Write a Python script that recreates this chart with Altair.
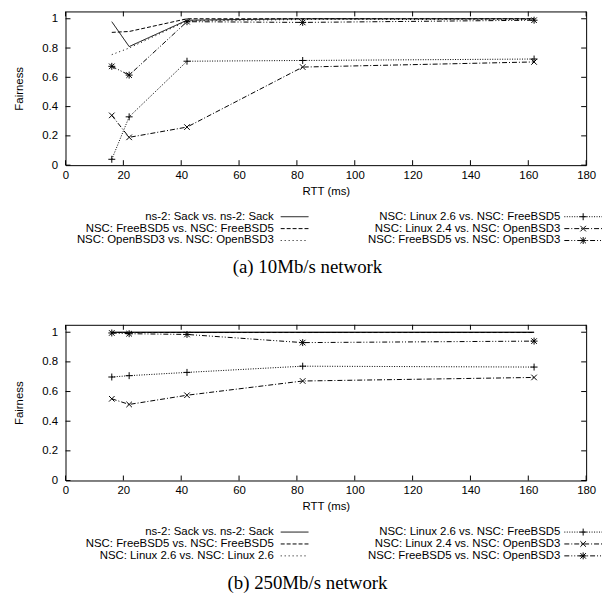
import altair as alt
import pandas as pd

# ---------------- data ----------------
rtt = [16, 22, 42, 82, 162]

series_a = [
    "ns-2: Sack vs. ns-2: Sack",
    "NSC: FreeBSD5 vs. NSC: FreeBSD5",
    "NSC: OpenBSD3 vs. NSC: OpenBSD3",
    "NSC: Linux 2.6 vs. NSC: FreeBSD5",
    "NSC: Linux 2.4 vs. NSC: OpenBSD3",
    "NSC: FreeBSD5 vs. NSC: OpenBSD3",
]
ns2_a = [0.98, 0.81, 0.99, 1.0, 1.0]
free_free_a = [0.907, 0.913, 1.0, 1.0, 1.0]
open_open_a = [0.755, 0.80, 0.985, 0.995, 0.995]
linux26_free_a = [0.04, 0.33, 0.71, 0.715, 0.725]
linux24_open_a = [0.34, 0.19, 0.26, 0.67, 0.705]
free_open_a = [0.675, 0.615, 0.98, 0.975, 0.99]

series_b = [
    "ns-2: Sack vs. ns-2: Sack",
    "NSC: FreeBSD5 vs. NSC: FreeBSD5",
    "NSC: Linux 2.6 vs. NSC: Linux 2.6",
    "NSC: Linux 2.6 vs. NSC: FreeBSD5",
    "NSC: Linux 2.4 vs. NSC: OpenBSD3",
    "NSC: FreeBSD5 vs. NSC: OpenBSD3",
]
ns2_b = [1.0, 1.0, 1.0, 1.0, 1.0]
free_free_b = [0.998, 0.998, 0.998, 0.998, 0.998]
linux_linux_b = [0.999, 0.999, 0.999, 0.999, 0.999]
linux26_free_b = [0.698, 0.707, 0.729, 0.771, 0.765]
linux24_open_b = [0.551, 0.513, 0.575, 0.671, 0.695]
free_open_b = [0.995, 0.99, 0.985, 0.93, 0.94]

x_ticks = [0, 20, 40, 60, 80, 100, 120, 140, 160, 180]
y_ticks = [0, 0.2, 0.4, 0.6, 0.8, 1]

caption_a = "(a)  10Mb/s network"
caption_b = "(b)  250Mb/s network"

# ---------------- styles ----------------
SANS = "Liberation Sans"
SERIF = "Liberation Serif"
FS = 11.5
W = 525
dashes = [[1, 0], [4, 2], [1, 3], [1, 1.5], [5, 2, 1, 2], [5, 2, 1, 2, 1, 2]]
PLUS = "M-1,0L1,0M0,-1L0,1"
CROSS = "M-0.8,-0.8L0.8,0.8M-0.8,0.8L0.8,-0.8"
STAR = "M-1,0L1,0M0,-1L0,1M-0.8,-0.8L0.8,0.8M-0.8,0.8L0.8,-0.8"
shapes = [PLUS, CROSS, STAR]
sizes = [49, 49, 49]


def panel(names, vals, H, caption):
    rows = []
    for n, vs in zip(names, vals):
        for r, v in zip(rtt, vs):
            rows.append({"series": n, "rtt": r, "fairness": v})
    df = pd.DataFrame(rows)
    xs = alt.Scale(domain=[0, 180], nice=False, zero=False)
    ys = alt.Scale(domain=[0, 1.05], nice=False)
    xax = alt.Axis(values=x_ticks, format="d", title="RTT (ms)", labelPadding=4,
                   titlePadding=5, labelFlush=False, labelOverlap=False)
    yax = alt.Axis(values=y_ticks, format="~g", title="Fairness", labelPadding=8,
                   titlePadding=17, labelOverlap=False)
    X = lambda: alt.X("rtt:Q", scale=xs, axis=xax)
    Y = lambda: alt.Y("fairness:Q", scale=ys, axis=yax)

    lines = alt.Chart(df).mark_line(color="black", strokeWidth=1).encode(
        x=X(), y=Y(),
        strokeDash=alt.StrokeDash("series:N", scale=alt.Scale(domain=names, range=dashes),
                                  legend=None),
    )
    markers = alt.Chart(df).transform_filter(
        alt.FieldOneOfPredicate(field="series", oneOf=names[3:])
    ).mark_point(filled=False, color="black", strokeWidth=1, size=49, opacity=1).encode(
        x=X(), y=Y(),
        shape=alt.Shape("series:N", scale=alt.Scale(domain=names[3:], range=shapes),
                        legend=None),
    )

    xt = pd.DataFrame({"rtt": x_ticks})
    yt = pd.DataFrame({"fairness": y_ticks})
    tk = dict(color="black", strokeWidth=1)
    tick_b = alt.Chart(xt).mark_rule(**tk).encode(
        x=X(), y=alt.value(H), y2=alt.value(H - 5))
    tick_t = alt.Chart(xt).mark_rule(**tk).encode(
        x=X(), y=alt.value(0), y2=alt.value(5))
    tick_l = alt.Chart(yt).mark_rule(**tk).encode(
        y=Y(), x=alt.value(0), x2=alt.value(5))
    tick_r = alt.Chart(yt).mark_rule(**tk).encode(
        y=Y(), x=alt.value(W - 5), x2=alt.value(W))

    layers = [lines, markers, tick_b, tick_t, tick_l, tick_r]

    # custom legend (two columns, three rows)
    for i, name in enumerate(names):
        col, row = divmod(i, 3)
        ty = H + 52 + 12 * row
        if col == 0:
            tx, s1, s2 = 210, 217, 245
        else:
            tx, s1, s2 = 499, 503, 541
        ld = pd.DataFrame({"label": [name]})
        layers.append(alt.Chart(ld).mark_text(
            align="right", baseline="middle", font=SANS, fontSize=FS, color="black"
        ).encode(x=alt.value(tx), y=alt.value(ty), text="label:N"))
        layers.append(alt.Chart(ld).mark_rule(
            color="black", strokeWidth=1, strokeDash=dashes[i]
        ).encode(x=alt.value(s1), x2=alt.value(s2), y=alt.value(ty)))
        if i >= 3:
            layers.append(alt.Chart(ld).mark_point(
                shape=shapes[i - 3], size=sizes[i - 3], filled=False, color="black",
                strokeWidth=1, opacity=1
            ).encode(x=alt.value((s1 + s2) / 2), y=alt.value(ty)))

    cd = pd.DataFrame({"cap": [caption]})
    layers.append(alt.Chart(cd).mark_text(
        font=SERIF, fontSize=19, color="black", baseline="middle", align="center"
    ).encode(x=alt.value(244), y=alt.value(H + 103), text="cap:N"))

    return alt.layer(*layers).properties(width=W, height=H)


pa = panel(series_a, [ns2_a, free_free_a, open_open_a, linux26_free_a,
                      linux24_open_a, free_open_a], 155, caption_a)
pb = panel(series_b, [ns2_b, free_free_b, linux_linux_b, linux26_free_b,
                      linux24_open_b, free_open_b], 157, caption_b)

chart = alt.vconcat(pa, pb, spacing=46).properties(
    padding={"left": 5, "top": 0, "right": 0, "bottom": 0}
).configure_view(
    stroke="black", strokeWidth=1
).configure_axis(
    labelFont=SANS, titleFont=SANS, labelFontSize=FS, titleFontSize=FS,
    titleFontWeight="normal", labelColor="black", titleColor="black",
    grid=False, ticks=False, tickSize=0, domain=False
)

chart.save("out.html", embed_options={"renderer": "svg", "actions": False})
